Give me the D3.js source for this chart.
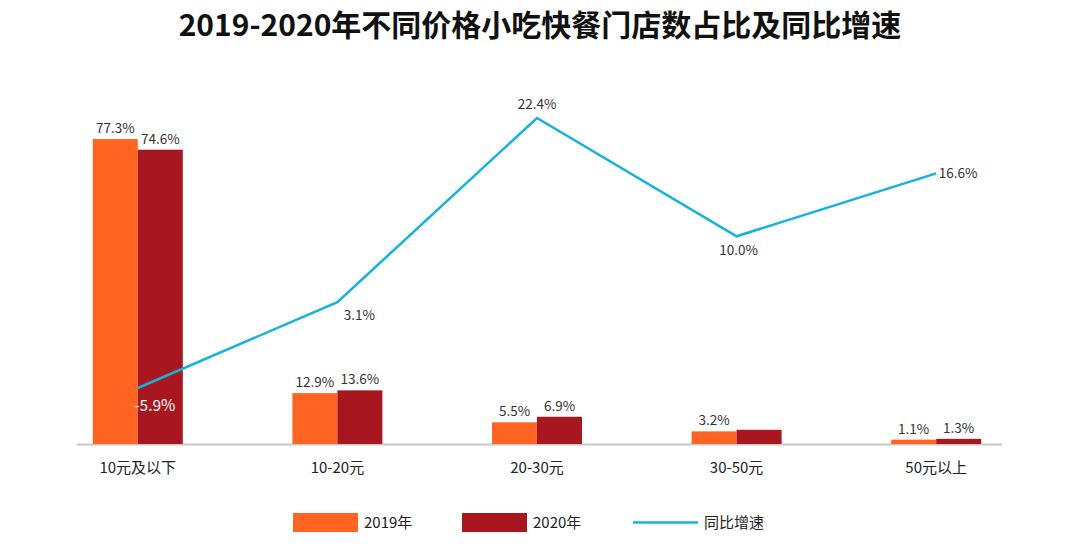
<!DOCTYPE html>
<html>
<head>
<meta charset="utf-8">
<script src="https://cdn.jsdelivr.net/npm/d3@7"></script>
<style>
  body { margin: 0; background: #fff; }
  text { font-family: "Noto Sans CJK SC", "Noto Sans", sans-serif; }
</style>
</head>
<body>
<div id="viz"></div>
<script>
// data
const categories = ["10元及以下", "10-20元", "20-30元", "30-50元", "50元以上"]
const share2019 = [77.3, 12.9, 5.5, 3.2, 1.1]
const share2020 = [74.6, 13.6, 6.9, 3.6, 1.3]
const growth = [-5.9, 3.1, 22.4, 10.0, 16.6]
// which 2020 labels are shown (30-50 has none in the original)
const show2020Label = [true, true, true, false, true]

const width = 1080
const height = 546

const svg = d3.select("#viz").append("svg")
    .attr("width", width)
    .attr("height", height)

// title
svg.append("text")
    .attr("x", 540)
    .attr("y", 36)
    .attr("text-anchor", "middle")
    .attr("font-size", 30)
    .attr("font-weight", "bold")
    .attr("fill", "#111")
    .text("2019-2020年不同价格小吃快餐门店数占比及同比增速")

const x = d3.scaleBand()
    .domain(categories)
    .range([38, 1036])
    .paddingInner(0.55)
    .paddingOuter(0.275)

const y = d3.scaleLinear().domain([0, 87.2]).range([444, 100])
const y2 = d3.scaleLinear().domain([-5.9, 22.4]).range([388, 118])

const barW = 45

// axis baseline
svg.append("line")
    .attr("x1", 77).attr("x2", 1002)
    .attr("y1", 444.5).attr("y2", 444.5)
    .attr("stroke", "#c8c8c8")
    .attr("stroke-width", 2)

const cx = d => x(d) + x.bandwidth() / 2

// bars
svg.selectAll(".b19").data(categories).join("rect")
    .attr("class", "b19")
    .attr("x", d => cx(d) - barW)
    .attr("y", (d, i) => y(share2019[i]))
    .attr("width", barW)
    .attr("height", (d, i) => y(0) - y(share2019[i]))
    .attr("fill", "#FF6422")

svg.selectAll(".b20").data(categories).join("rect")
    .attr("class", "b20")
    .attr("x", d => cx(d))
    .attr("y", (d, i) => y(share2020[i]))
    .attr("width", barW)
    .attr("height", (d, i) => y(0) - y(share2020[i]))
    .attr("fill", "#A8171F")

// bar labels
svg.selectAll(".l19").data(categories).join("text")
    .attr("class", "l19")
    .attr("x", d => cx(d) - barW / 2)
    .attr("y", (d, i) => y(share2019[i]) - 6)
    .attr("text-anchor", "middle")
    .attr("font-size", 13.5)
    .attr("fill", "#333")
    .text((d, i) => share2019[i].toFixed(1) + "%")

svg.selectAll(".l20").data(categories.filter((d, i) => show2020Label[i])).join("text")
    .attr("class", "l20")
    .attr("x", d => cx(d) + barW / 2)
    .attr("y", d => y(share2020[categories.indexOf(d)]) - 6)
    .attr("text-anchor", "middle")
    .attr("font-size", 13.5)
    .attr("fill", "#333")
    .text(d => share2020[categories.indexOf(d)].toFixed(1) + "%")

// category labels
svg.selectAll(".cat").data(categories).join("text")
    .attr("class", "cat")
    .attr("x", d => cx(d))
    .attr("y", 473)
    .attr("text-anchor", "middle")
    .attr("font-size", 15)
    .attr("fill", "#222")
    .text(d => d)

// growth line
const line = d3.line()
    .x((d, i) => cx(categories[i]))
    .y(d => y2(d))

svg.append("path")
    .datum(growth)
    .attr("d", line)
    .attr("fill", "none")
    .attr("stroke", "#16B2DD")
    .attr("stroke-width", 2.5)

// growth labels: placement per point
const gPos = [
    { dx: 17, dy: 23, fill: "#fff" },
    { dx: 22, dy: 18, fill: "#333" },
    { dx: 0, dy: -9, fill: "#333" },
    { dx: 2, dy: 19, fill: "#333" },
    { dx: 22, dy: 5, fill: "#333" }
]
svg.selectAll(".lg").data(growth).join("text")
    .attr("class", "lg")
    .attr("x", (d, i) => cx(categories[i]) + gPos[i].dx)
    .attr("y", (d, i) => y2(d) + gPos[i].dy)
    .attr("text-anchor", "middle")
    .attr("font-size", (d, i) => i === 0 ? 15.5 : 13.5)
    .attr("fill", (d, i) => gPos[i].fill)
    .text(d => d.toFixed(1) + "%")

// legend
const legend = svg.append("g")
legend.append("rect").attr("x", 293).attr("y", 513).attr("width", 65).attr("height", 19).attr("fill", "#FF6422")
legend.append("text").attr("x", 364).attr("y", 528).attr("font-size", 15).attr("fill", "#222").text("2019年")
legend.append("rect").attr("x", 462).attr("y", 513).attr("width", 65).attr("height", 19).attr("fill", "#A8171F")
legend.append("text").attr("x", 533).attr("y", 528).attr("font-size", 15).attr("fill", "#222").text("2020年")
legend.append("line").attr("x1", 633).attr("x2", 698).attr("y1", 522.5).attr("y2", 522.5)
    .attr("stroke", "#16B2DD").attr("stroke-width", 2.5)
legend.append("text").attr("x", 704).attr("y", 528).attr("font-size", 15).attr("fill", "#222").text("同比增速")
</script>
</body>
</html>
